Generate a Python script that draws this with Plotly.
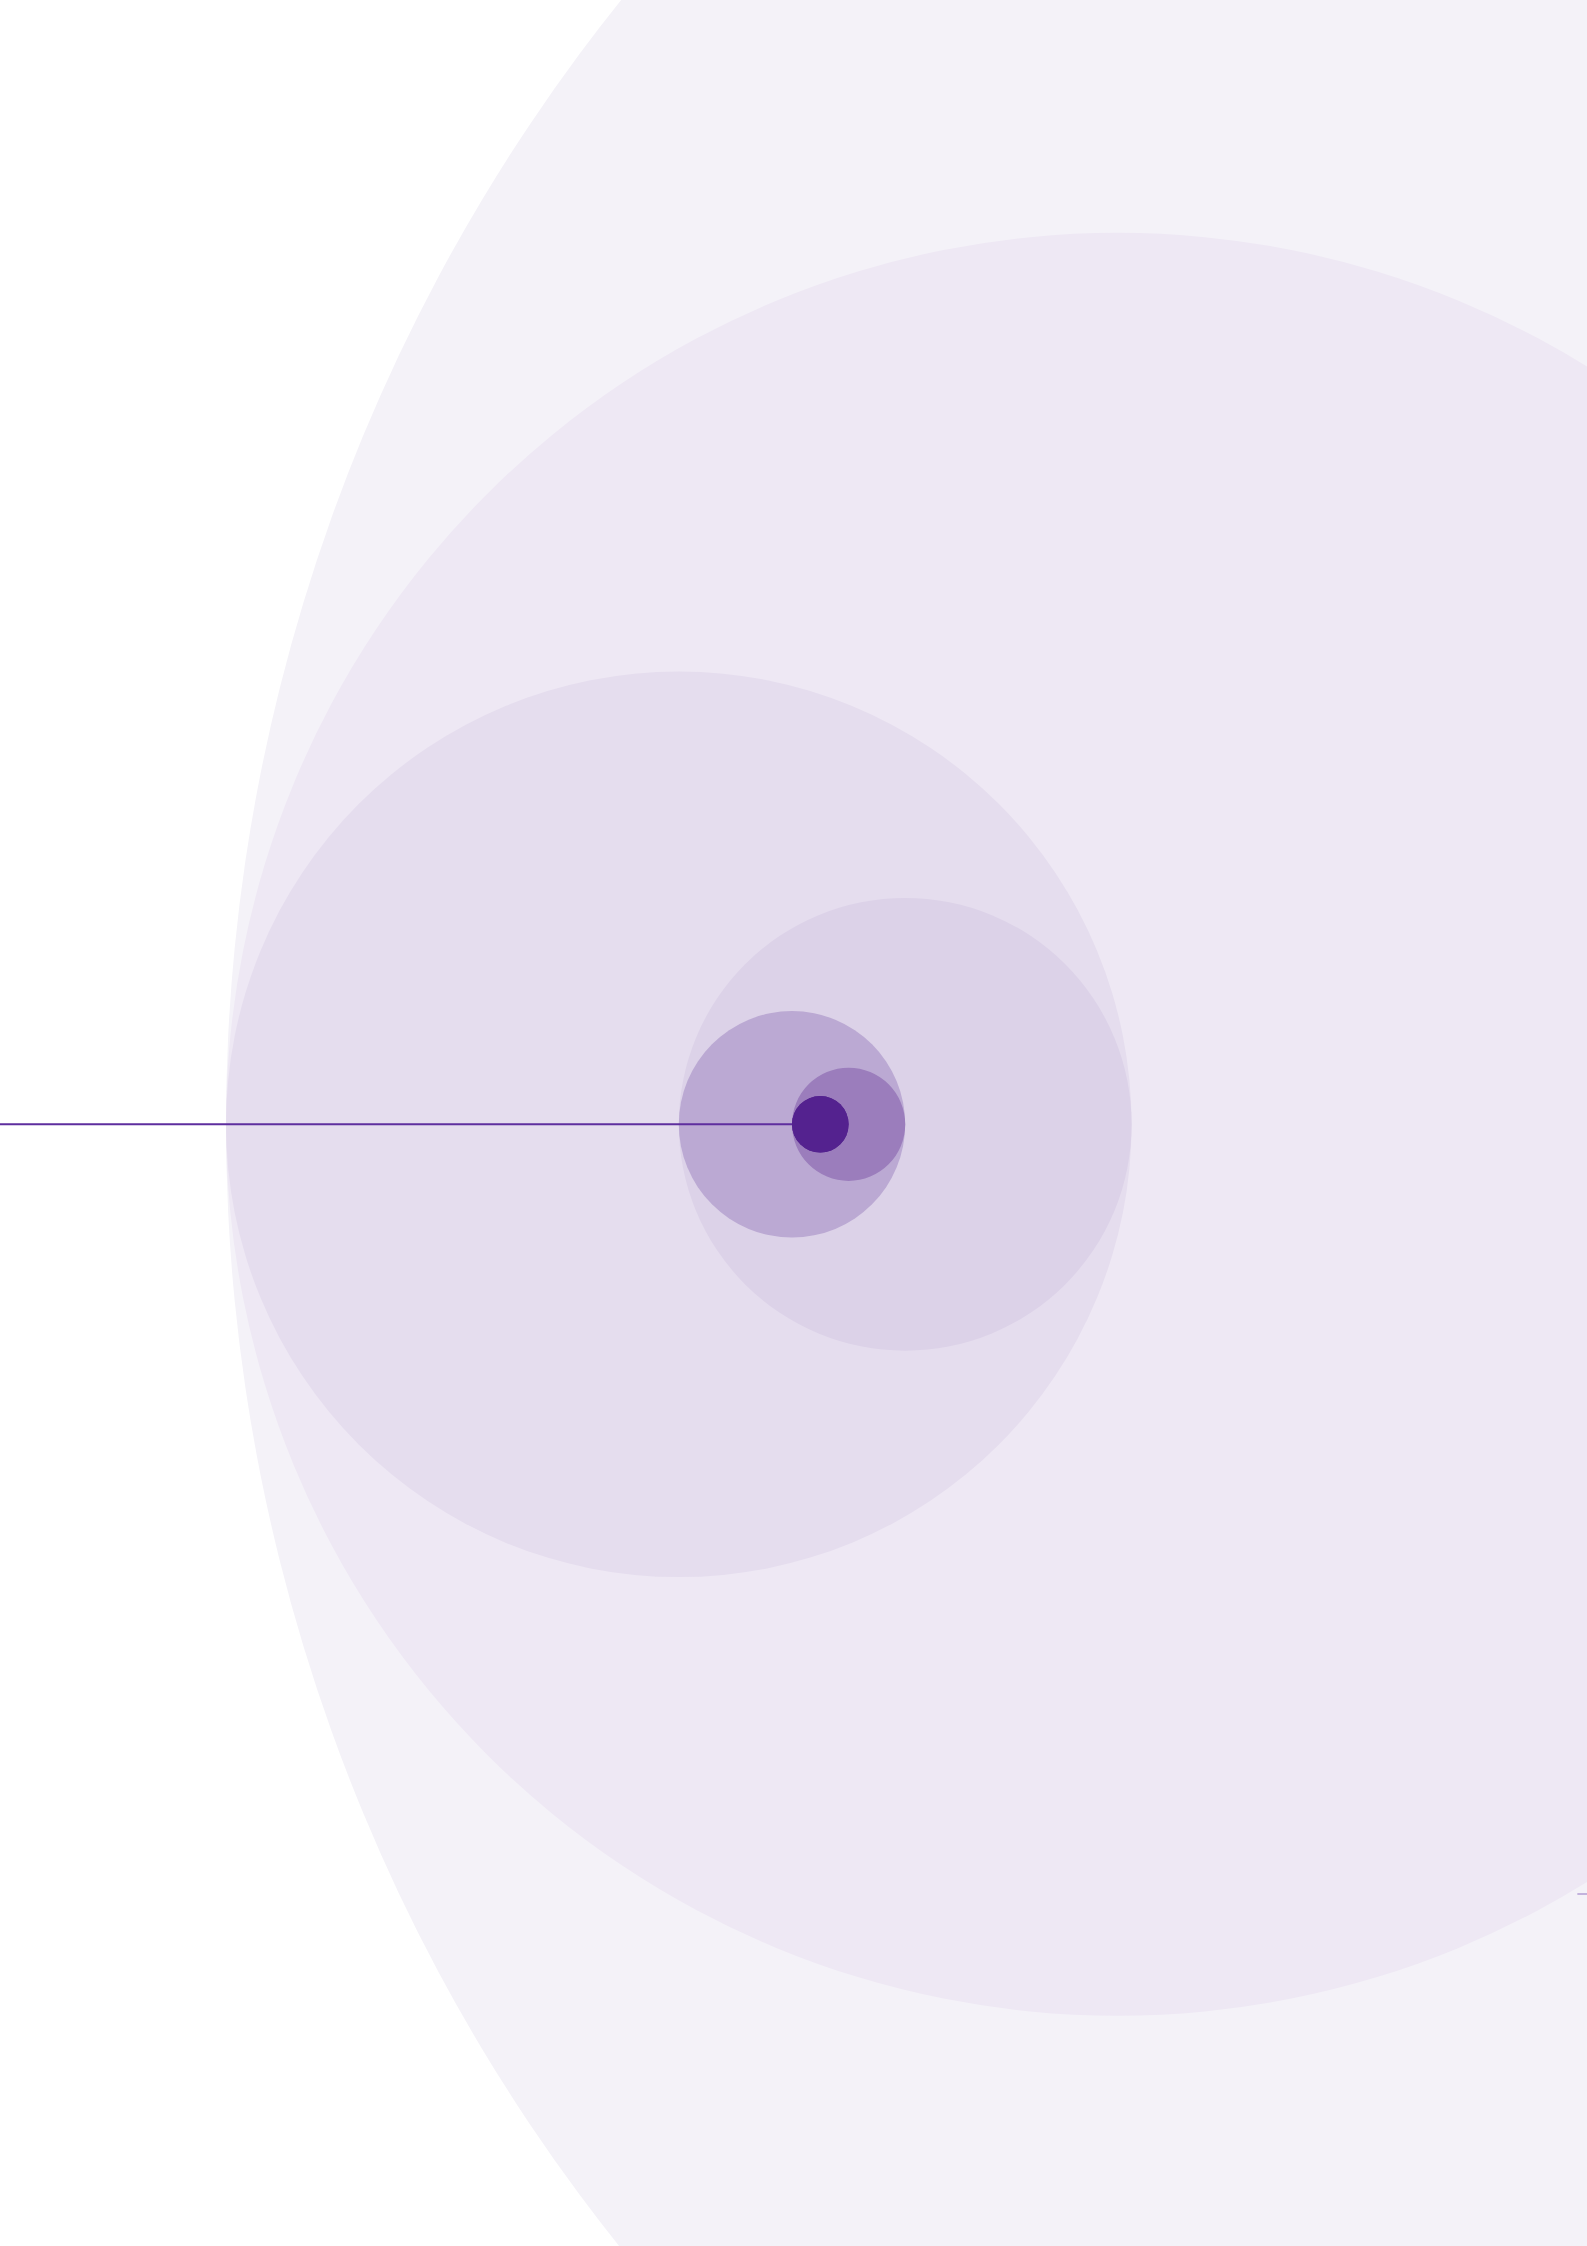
import plotly.graph_objects as go

# ---- data (units: radius of the innermost circle) ----
circle_names = ["Level 1", "Level 2", "Level 3", "Level 4", "Level 5", "Level 6", "Level 7"]
circle_cx = [63.5, 31.5, 16.0, 24.0, 20.0, 22.0, 21.0]
circle_cy = [0.0, 0.0, 0.0, 0.0, 0.0, 0.0, 0.0]
circle_r = [63.5, 31.5, 16.0, 8.0, 4.0, 2.0, 1.0]
circle_colors = ["#f4f2f8", "#eee8f4", "#e5ddee", "#dcd2e8", "#bba9d3", "#9b7dbc", "#54228f"]

stem_x = [-10.0, 20.0]
stem_y = [0.0, 0.0]

tail_x = [47.75, 50.0]
tail_y = [-27.2, -27.2]

# ---- canvas / scale ----
W, H = 1587, 2246
px_per_unit = 28.3
left_px, center_px = 226.0, 1124.3
x_range = [-left_px / px_per_unit, (W - left_px) / px_per_unit]
y_range = [-(H - center_px) / px_per_unit, center_px / px_per_unit]

fig = go.Figure()

shapes = []
for cx, cy, r, col in zip(circle_cx, circle_cy, circle_r, circle_colors):
    shapes.append(dict(
        type="circle", xref="x", yref="y",
        x0=cx - r, x1=cx + r, y0=cy - r, y1=cy + r,
        fillcolor=col, line=dict(width=0), layer="below",
    ))

fig.add_trace(go.Scatter(
    x=stem_x, y=stem_y, mode="lines",
    line=dict(color="#5e2e9e", width=2), hoverinfo="skip", showlegend=False,
))
fig.add_trace(go.Scatter(
    x=tail_x, y=tail_y, mode="lines",
    line=dict(color="#c3b3dd", width=2), hoverinfo="skip", showlegend=False,
))
# innermost dot drawn on top of the stem
fig.add_trace(go.Scatter(
    x=[circle_cx[-1]], y=[circle_cy[-1]], mode="markers",
    marker=dict(size=2 * circle_r[-1] * px_per_unit, color=circle_colors[-1], line=dict(width=0)),
    hoverinfo="skip", showlegend=False,
))

fig.update_layout(
    width=W, height=H,
    margin=dict(l=0, r=0, t=0, b=0, pad=0),
    paper_bgcolor="#ffffff", plot_bgcolor="#ffffff",
    shapes=shapes, showlegend=False,
    xaxis=dict(range=x_range, visible=False, showgrid=False, zeroline=False, fixedrange=True),
    yaxis=dict(range=y_range, visible=False, showgrid=False, zeroline=False, fixedrange=True),
)

fig.write_html(
    "out.html",
    config={"displayModeBar": False},
    post_script="document.body.style.margin='0';document.body.style.padding='0';document.body.style.overflow='hidden';",
)
